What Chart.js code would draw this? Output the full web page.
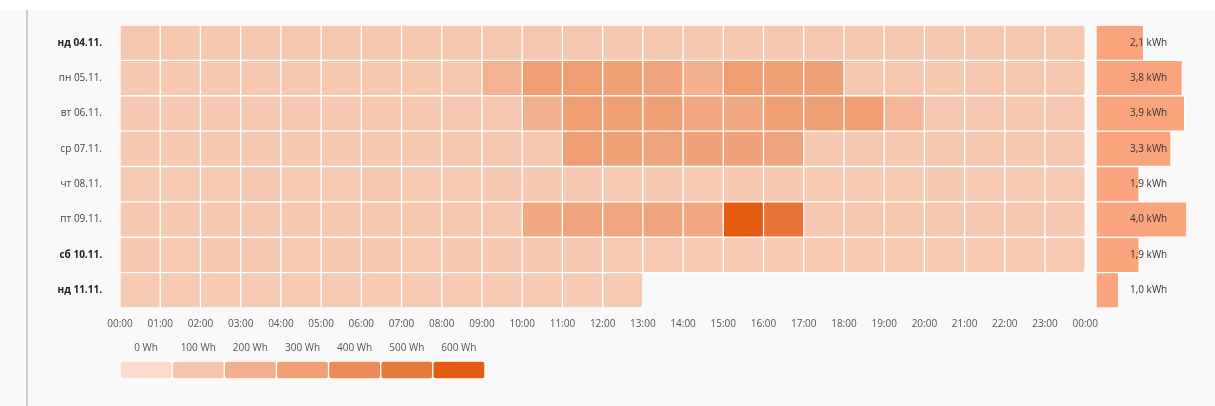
<!DOCTYPE html>
<html>
<head>
<meta charset="utf-8">
<script src="https://cdn.jsdelivr.net/npm/chart.js@4/dist/chart.umd.min.js"></script>
<style>
    body { margin: 0; background: #fff; width: 1215px; height: 406px; overflow: hidden; font-family: "Open Sans", sans-serif; }
    #panel { position: absolute; left: 0; top: 10px; width: 1215px; height: 396px; background: #f9f9f9; }
    #divider { position: absolute; left: 26px; top: 10px; width: 2px; height: 396px; background: #cfcfcf; }
    canvas { position: absolute; }
</style>
</head>
<body>
<div id="panel"></div>
<div id="divider"></div>
<canvas id="heatmap" width="1100" height="335" style="left:0;top:0"></canvas>
<canvas id="totals" width="125" height="335" style="left:1090px;top:0"></canvas>
<canvas id="scale" width="375" height="45" style="left:115px;top:335px"></canvas>
<script>
const days = ['нд 04.11.', 'пн 05.11.', 'вт 06.11.', 'ср 07.11.', 'чт 08.11.', 'пт 09.11.', 'сб 10.11.', 'нд 11.11.'];
const weekend = [true, false, false, false, false, false, true, true];
const hourTicks = ['00:00', '01:00', '02:00', '03:00', '04:00', '05:00', '06:00', '07:00', '08:00', '09:00', '10:00', '11:00',
    '12:00', '13:00', '14:00', '15:00', '16:00', '17:00', '18:00', '19:00', '20:00', '21:00', '22:00', '23:00', '00:00'];

// Wh per hour, one array per day
const sun04 = [90, 88, 86, 85, 86, 87, 88, 86, 85, 87, 89, 90, 88, 87, 86, 88, 90, 89, 87, 86, 85, 86, 88, 87];
const mon05 = [82, 82, 80, 81, 82, 83, 82, 84, 85, 190, 305, 310, 300, 270, 195, 310, 300, 300, 86, 85, 84, 85, 86, 85];
const tue06 = [82, 81, 80, 82, 83, 82, 84, 83, 85, 86, 200, 305, 300, 300, 255, 245, 300, 300, 305, 165, 86, 85, 84, 85];
const wed07 = [82, 81, 82, 80, 82, 83, 82, 84, 85, 86, 88, 305, 285, 275, 290, 280, 275, 86, 85, 84, 85, 86, 84, 85];
const thu08 = [79, 78, 79, 80, 78, 79, 80, 79, 78, 80, 81, 80, 79, 80, 79, 80, 81, 79, 78, 79, 80, 79, 78, 79];
const fri09 = [82, 81, 82, 80, 82, 83, 82, 84, 85, 86, 245, 275, 260, 265, 255, 600, 520, 86, 85, 84, 85, 86, 84, 85];
const sat10 = [80, 79, 80, 81, 79, 80, 80, 79, 80, 81, 80, 80, 79, 78, 77, 78, 77, 78, 77, 78, 78, 77, 78, 77];
const sun11 = [76, 77, 75, 76, 77, 76, 75, 77, 76, 77, 76, 75, 76, null, null, null, null, null, null, null, null, null, null, null];
const hourly = [sun04, mon05, tue06, wed07, thu08, fri09, sat10, sun11];

const dayTotals = [2.1, 3.8, 3.9, 3.3, 1.9, 4.0, 1.9, 1.0];

const scaleSteps = [0, 100, 200, 300, 400, 500, 600];
const scaleLabels = ['0 Wh', '100 Wh', '200 Wh', '300 Wh', '400 Wh', '500 Wh', '600 Wh'];
const scaleColors = ['#fadbcd', '#f6c5ac', '#f3b08e', '#efa074', '#ec8b57', '#e8793c', '#e35c12'];

const fontFamily = '"Open Sans", sans-serif';

function hexToRgb(hex) {
    return [1, 3, 5].map(i => parseInt(hex.substr(i, 2), 16));
}

// interpolate colour between the scale steps
function colorFor(value) {
    if (value <= scaleSteps[0]) return scaleColors[0];
    for (let i = 1; i < scaleSteps.length; i++) {
        if (value <= scaleSteps[i]) {
            const t = (value - scaleSteps[i - 1]) / (scaleSteps[i] - scaleSteps[i - 1]);
            const a = hexToRgb(scaleColors[i - 1]);
            const b = hexToRgb(scaleColors[i]);
            const c = a.map((v, k) => Math.round(v + (b[k] - v) * t));
            return `rgb(${c[0]},${c[1]},${c[2]})`;
        }
    }
    return scaleColors[scaleColors.length - 1];
}

// Heatmap: one stacked dataset per hour
const hourSets = [];
for (let h = 0; h < 24; h++) {
    hourSets.push({
        label: hourTicks[h],
        data: hourly.map(day => day[h] == null ? null : 1),
        backgroundColor: hourly.map(day => day[h] == null ? 'transparent' : colorFor(day[h])),
        borderColor: 'rgba(255,255,255,0.95)',
        borderWidth: 1,
        borderRadius: 3,
        borderSkipped: false,
        barPercentage: 1,
        categoryPercentage: 1
    });
}

new Chart(document.getElementById('heatmap'), {
    type: 'bar',
    data: { labels: days, datasets: hourSets },
    options: {
        responsive: false,
        animation: false,
        indexAxis: 'y',
        layout: { padding: { top: 25, right: 7, left: 0, bottom: 0 } },
        plugins: { legend: { display: false }, tooltip: { enabled: false } },
        scales: {
            x: {
                type: 'linear',
                stacked: true,
                min: 0,
                max: 24,
                grid: { display: false },
                border: { display: false },
                afterFit: scale => { scale.height = 27; },
                ticks: {
                    stepSize: 1,
                    autoSkip: false,
                    maxRotation: 0,
                    padding: 2,
                    color: '#555',
                    font: { family: fontFamily, size: 10 },
                    callback: v => hourTicks[v]
                }
            },
            y: {
                stacked: true,
                grid: { display: false },
                border: { display: false },
                afterFit: scale => { scale.width = 120; },
                ticks: {
                    padding: 10,
                    color: ctx => weekend[ctx.index] ? '#222' : '#444',
                    font: ctx => ({ family: fontFamily, size: 10, weight: weekend[ctx.index] ? 'bold' : 'normal' })
                }
            }
        }
    }
});

// Daily totals on the right
const totalLabels = {
    id: 'totalLabels',
    afterDatasetsDraw(chart) {
        const ctx = chart.ctx;
        const meta = chart.getDatasetMeta(0);
        ctx.save();
        ctx.font = `10px ${fontFamily}`;
        ctx.fillStyle = '#333';
        ctx.textBaseline = 'middle';
        meta.data.forEach((bar, i) => {
            ctx.fillText(dayTotals[i].toFixed(1).replace('.', ',') + ' kWh', chart.chartArea.left + 34, bar.y);
        });
        ctx.restore();
    }
};

new Chart(document.getElementById('totals'), {
    type: 'bar',
    data: {
        labels: days,
        datasets: [{
            data: dayTotals,
            backgroundColor: '#f9a47c',
            borderColor: 'rgba(255,255,255,0.9)',
            borderWidth: 1,
            borderSkipped: false,
            barPercentage: 1,
            categoryPercentage: 1
        }]
    },
    options: {
        responsive: false,
        animation: false,
        indexAxis: 'y',
        layout: { padding: { top: 25, right: 19, left: 6, bottom: 27 } },
        plugins: { legend: { display: false }, tooltip: { enabled: false } },
        scales: {
            x: { display: false, min: 0, max: 4.4 },
            y: { display: false }
        }
    },
    plugins: [totalLabels]
});

// Colour scale legend, step labels drawn above each box
const stepLabels = {
    id: 'stepLabels',
    afterDatasetsDraw(chart) {
        const ctx = chart.ctx;
        const meta = chart.getDatasetMeta(0);
        ctx.save();
        ctx.font = `10px ${fontFamily}`;
        ctx.fillStyle = '#555';
        ctx.textAlign = 'center';
        ctx.textBaseline = 'middle';
        meta.data.forEach((box, i) => {
            ctx.fillText(chart.data.labels[i], box.x, chart.chartArea.top - 13);
        });
        ctx.restore();
    }
};

new Chart(document.getElementById('scale'), {
    type: 'bar',
    data: {
        labels: scaleLabels,
        datasets: [{
            data: scaleSteps.map(() => 1),
            backgroundColor: scaleColors,
            borderColor: 'rgba(255,255,255,0.95)',
            borderWidth: 1,
            borderRadius: 3,
            borderSkipped: false,
            barPercentage: 1,
            categoryPercentage: 1
        }]
    },
    options: {
        responsive: false,
        animation: false,
        layout: { padding: { top: 26, right: 5, left: 5, bottom: 1 } },
        plugins: { legend: { display: false }, tooltip: { enabled: false } },
        scales: {
            x: { display: false },
            y: { display: false, min: 0, max: 1 }
        }
    },
    plugins: [stepLabels]
});
</script>
</body>
</html>
